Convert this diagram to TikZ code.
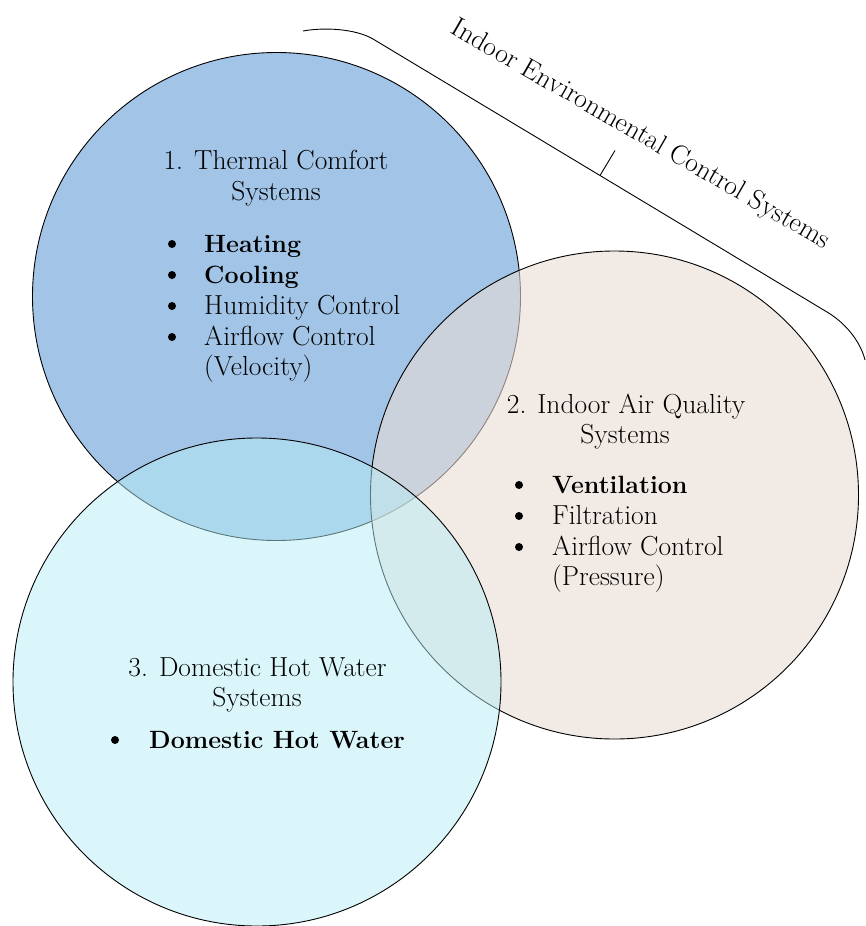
\documentclass[tikz,border=0pt]{standalone}
\definecolor{thermal}{RGB}{162,196,230}
\definecolor{airquality}{RGB}{233,220,212}
\definecolor{hotwater}{RGB}{181,237,245}
\tikzset{
  venn/.style={circle,draw=black,line width=0.9pt,minimum size=488pt,inner sep=0pt},
  head/.style={anchor=base,inner sep=0pt},
  dot/.style={circle,fill=black,inner sep=0pt,minimum size=8pt},
  item/.style={anchor=base west,inner sep=0pt},
  bolditem/.style={item,font=\fontsize{25}{31}\selectfont\bfseries}
}
\begin{document}
\begin{tikzpicture}[x=1pt,y=-1pt,font=\fontsize{27.5}{31}\selectfont]
  \useasboundingbox (0,0) rectangle (865,926);
  % the three circles
  \node[venn,fill=thermal] (thermal) at (276.5,296.5) {};
  \node[venn,fill=airquality,fill opacity=0.6] (air) at (614.5,495) {};
  \node[venn,fill=hotwater,fill opacity=0.5] (water) at (257,682) {};
  % brace over circles 1 and 2
  \coordinate (braceA) at (303,31);
  \coordinate (braceB) at (373,39);
  \coordinate (braceM) at (600,175.5);
  \coordinate (braceC) at (827,312);
  \coordinate (braceD) at (865,360);
  \coordinate (braceT) at (615,150.5);
  \draw[line width=0.9pt] (braceA) .. controls (325,27) and (356,29) .. (braceB)
    -- (braceC) .. controls (844,322) and (860,340) .. (braceD);
  \draw[line width=0.9pt] (braceM) -- (braceT);
  \node[rotate=-30,anchor=base,inner sep=0pt] (ieq) at (637,141) {Indoor Environmental Control Systems};
  % 1. thermal comfort
  \node[head] (t1a) at (276,169) {1. Thermal Comfort};
  \node[head] (t1b) at (276,200) {Systems};
  \node[dot] (d1a) at (172,244) {};
  \node[bolditem] (i1a) at (204,252) {Heating};
  \node[dot] (d1b) at (172,275) {};
  \node[bolditem] (i1b) at (204,283) {Cooling};
  \node[dot] (d1c) at (172,306) {};
  \node[item] (i1c) at (204,314) {Humidity Control};
  \node[dot] (d1d) at (172,337) {};
  \node[item] (i1d) at (204,345) {Airflow Control};
  \node[item] (i1e) at (204,375) {(Velocity)};
  % 2. indoor air quality
  \node[head] (t2a) at (626,413) {2. Indoor Air Quality};
  \node[head] (t2b) at (625,443) {Systems};
  \node[dot] (d2a) at (519,485) {};
  \node[bolditem] (i2a) at (552,493) {Ventilation};
  \node[dot] (d2b) at (519,516) {};
  \node[item] (i2b) at (552,524) {Filtration};
  \node[dot] (d2c) at (519,547) {};
  \node[item] (i2c) at (552,555) {Airflow Control};
  \node[item] (i2d) at (552,585) {(Pressure)};
  % 3. domestic hot water
  \node[head] (t3a) at (257.5,676) {3. Domestic Hot Water};
  \node[head] (t3b) at (257,706) {Systems};
  \node[dot] (d3a) at (115,740) {};
  \node[bolditem] (i3a) at (149,748) {Domestic Hot Water};
\end{tikzpicture}
\end{document}
